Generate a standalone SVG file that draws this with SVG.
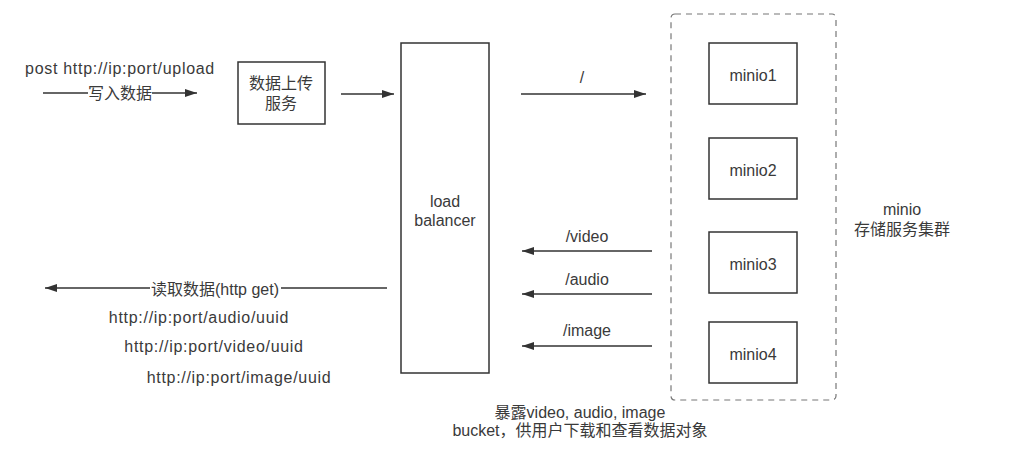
<svg xmlns="http://www.w3.org/2000/svg" width="1011" height="471" viewBox="0 0 1011 471">
<style>
.box{fill:#fff;stroke:#333;stroke-width:1.5}
.dash{fill:none;stroke:#777;stroke-width:1.2;stroke-dasharray:6 5}
.ln{fill:none;stroke:#333;stroke-width:1.5}
text{font-family:"Liberation Sans","Noto Sans CJK SC",sans-serif;font-size:16px;fill:#3a3a3a;text-anchor:middle}
.url{letter-spacing:0.7px}
.lbl{fill:#fff}
</style>
<defs>
<marker id="ah" markerWidth="12" markerHeight="8" refX="12" refY="4" orient="auto" markerUnits="userSpaceOnUse">
<path d="M0,0 L12,4 L0,8 Z" fill="#333"/>
</marker>
</defs>
<rect width="1011" height="471" fill="#fff"/>
<g id="connectors">
<line class="ln" x1="43" y1="93" x2="197" y2="93" marker-end="url(#ah)"/>
<rect class="lbl" x="88" y="84" width="64" height="18"/>
<text x="120" y="99">写入数据</text>
<text class="url" x="120" y="74">post http://ip:port/upload</text>
<line class="ln" x1="341" y1="94" x2="394" y2="94" marker-end="url(#ah)"/>
<line class="ln" x1="521" y1="94" x2="646" y2="94" marker-end="url(#ah)"/>
<text x="582" y="83">/</text>
<line class="ln" x1="652" y1="251" x2="522" y2="251" marker-end="url(#ah)"/>
<text x="587" y="242">/video</text>
<line class="ln" x1="652" y1="294" x2="522" y2="294" marker-end="url(#ah)"/>
<text x="587" y="285">/audio</text>
<line class="ln" x1="652" y1="346" x2="522" y2="346" marker-end="url(#ah)"/>
<text x="587" y="336">/image</text>
<line class="ln" x1="387" y1="288" x2="45" y2="288" marker-end="url(#ah)"/>
<rect class="lbl" x="150" y="279" width="131" height="18"/>
<text x="215" y="295">读取数据(http get)</text>
<text class="url" x="199" y="323">http://ip:port/audio/uuid</text>
<text class="url" x="214" y="352">http://ip:port/video/uuid</text>
<text class="url" x="239" y="383">http://ip:port/image/uuid</text>
<text x="580" y="418">暴露video, audio, image</text>
<text x="580" y="436">bucket，供用户下载和查看数据对象</text>
</g>
<g id="upload">
<rect class="box" x="238" y="62" width="87" height="62"/>
<text x="281" y="89">数据上传</text>
<text x="281" y="109">服务</text>
</g>
<g id="lb">
<rect class="box" x="401" y="43" width="88" height="330"/>
<text x="445" y="207">load</text>
<text x="445" y="226">balancer</text>
</g>
<g id="cluster">
<rect class="dash" x="671" y="14" width="165" height="386" rx="4"/>
<text x="902" y="215">minio</text>
<text x="902" y="235">存储服务集群</text>
</g>
<g id="minio1">
<rect class="box" x="709" y="43" width="88" height="61"/>
<text x="753" y="81">minio1</text>
</g>
<g id="minio2">
<rect class="box" x="709" y="138" width="88" height="61"/>
<text x="753" y="176">minio2</text>
</g>
<g id="minio3">
<rect class="box" x="709" y="232" width="88" height="61"/>
<text x="753" y="270">minio3</text>
</g>
<g id="minio4">
<rect class="box" x="709" y="322" width="88" height="61"/>
<text x="753" y="360">minio4</text>
</g>
</svg>
